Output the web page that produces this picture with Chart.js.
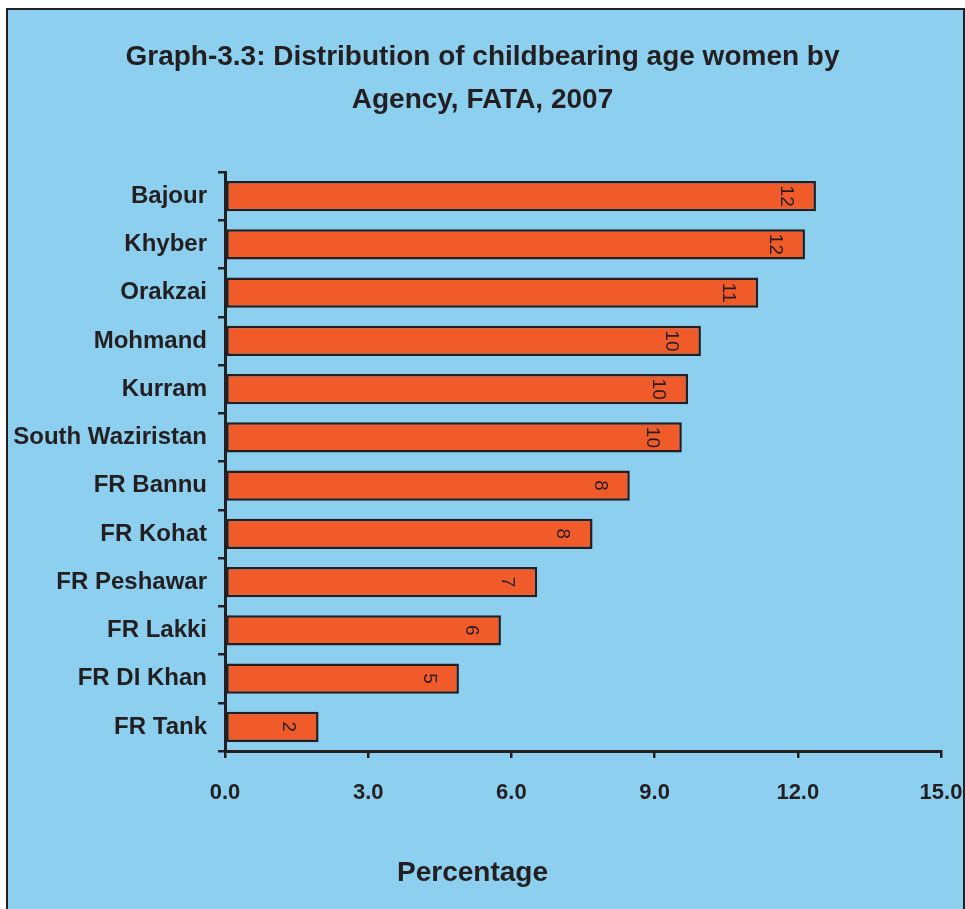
<!DOCTYPE html>
<html>
<head>
<meta charset="utf-8">
<title>Distribution of childbearing age women by Agency, FATA, 2007</title>
<script src="https://cdn.jsdelivr.net/npm/chart.js@4/dist/chart.umd.min.js"></script>
<style>
  html, body { margin: 0; padding: 0; background: #ffffff; overflow: hidden; }
  #frame {
    position: absolute; left: 6px; top: 8px; width: 959px; height: 960px;
    background: #8DCFEE; border: 2px solid #231F20; box-sizing: border-box;
  }
  #wrap { position: absolute; left: 0; top: 0; width: 965px; height: 909px; }
</style>
</head>
<body>
<div id="frame"></div>
<div id="wrap"><canvas id="chart" width="965" height="909"></canvas></div>
<script>
// Agencies, top to bottom
const agencies = [
  'Bajour', 'Khyber', 'Orakzai', 'Mohmand', 'Kurram', 'South Waziristan',
  'FR Bannu', 'FR Kohat', 'FR Peshawar', 'FR Lakki', 'FR DI Khan', 'FR Tank'
];
// Share of childbearing age women (%)
const shares = [12.38, 12.15, 11.17, 9.97, 9.70, 9.57, 8.48, 7.70, 6.54, 5.78, 4.90, 1.96];
// Percentage axis ticks
const axisTicks = [0, 3, 6, 9, 12, 15];

const titleLines = ['Graph-3.3: Distribution of childbearing age women by', 'Agency, FATA, 2007'];
const axisCaption = 'Percentage';

const INK = '#231F20';
const FONT = '"Liberation Sans", Arial, sans-serif';

// Rounded values written vertically near the end of each bar
const barValueLabels = {
  id: 'barValueLabels',
  afterDatasetsDraw(chart) {
    const ctx = chart.ctx;
    const meta = chart.getDatasetMeta(0);
    ctx.save();
    ctx.font = '19px ' + FONT;
    ctx.fillStyle = INK;
    ctx.textAlign = 'center';
    ctx.textBaseline = 'middle';
    meta.data.forEach((bar, i) => {
      ctx.save();
      ctx.translate(bar.x - 30, bar.y);
      ctx.rotate(Math.PI / 2);
      ctx.fillText(String(Math.round(shares[i])), 0, 0);
      ctx.restore();
    });
    ctx.restore();
  }
};

// Caption under the percentage axis
const axisCaptionPlugin = {
  id: 'axisCaption',
  afterDraw(chart) {
    const ctx = chart.ctx;
    ctx.save();
    ctx.font = 'bold 28px ' + FONT;
    ctx.fillStyle = INK;
    ctx.textAlign = 'center';
    ctx.textBaseline = 'middle';
    ctx.fillText(axisCaption, chart.width / 2 - 10, 873);
    ctx.restore();
  }
};

new Chart(document.getElementById('chart'), {
  type: 'bar',
  data: {
    labels: agencies,
    datasets: [{
      data: shares,
      backgroundColor: '#F15A29',
      borderColor: INK,
      borderWidth: 2.5,
      borderSkipped: false,
      categoryPercentage: 1,
      barPercentage: 0.63
    }]
  },
  options: {
    indexAxis: 'y',
    responsive: false,
    devicePixelRatio: 1,
    animation: false,
    layout: { padding: { left: 0, right: 0, top: 0, bottom: 0 } },
    plugins: {
      legend: { display: false },
      tooltip: { enabled: false },
      title: {
        display: true,
        text: titleLines,
        color: INK,
        font: { family: FONT, size: 28, weight: 'bold', lineHeight: 1.536 },
        padding: { top: 35.5, bottom: 50.5 }
      }
    },
    scales: {
      x: {
        type: 'linear',
        position: 'bottom',
        min: 0,
        max: 15,
        afterBuildTicks(scale) { scale.ticks = axisTicks.map(v => ({ value: v })); },
        afterFit(scale) {
          scale.height = 158;
          scale.paddingLeft = 0;
          scale.paddingRight = 24;
        },
        ticks: {
          color: INK,
          padding: 22,
          font: { family: FONT, size: 22, weight: 'bold' },
          callback: v => Number(v).toFixed(1)
        },
        grid: {
          drawOnChartArea: false,
          drawTicks: true,
          tickLength: 7,
          color: INK,
          lineWidth: 2.5
        },
        border: { display: true, color: INK, width: 3 }
      },
      y: {
        type: 'category',
        position: 'left',
        afterFit(scale) { scale.width = 225; },
        ticks: {
          color: INK,
          padding: 11,
          font: { family: FONT, size: 24, weight: 'bold' }
        },
        grid: {
          offset: true,
          drawOnChartArea: false,
          drawTicks: true,
          tickLength: 7,
          color: INK,
          lineWidth: 2.5
        },
        border: { display: true, color: INK, width: 3 }
      }
    }
  },
  plugins: [barValueLabels, axisCaptionPlugin]
});
</script>
</body>
</html>
